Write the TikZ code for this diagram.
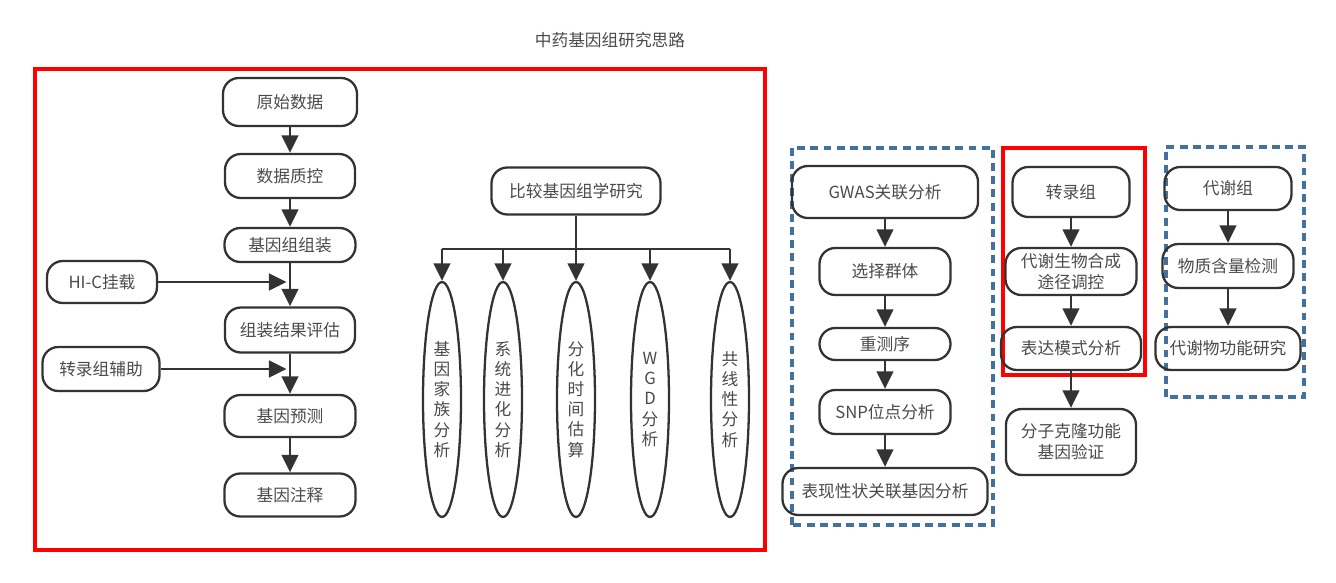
\documentclass[tikz,border=0pt]{standalone}
\usepackage{fontspec}
\setmainfont{Noto Sans CJK SC}
\usepackage{tikz}
\usetikzlibrary{arrows.meta}
\usetikzlibrary{shapes.geometric}
\definecolor{lineGray}{HTML}{333333}
\definecolor{textGray}{HTML}{4A4A4A}
\definecolor{dashBlue}{HTML}{41719C}
\tikzset{
  flowbox/.style={draw=lineGray, line width=1.3pt, rounded corners=9pt, inner sep=0pt, text=textGray, font=\fontsize{9.5}{12}\selectfont, align=center},
  oval/.style={draw=lineGray, line width=1.3pt, ellipse, minimum width=0.76cm, minimum height=4.7cm, inner sep=0pt, text=textGray, font=\fontsize{9.5}{11.5}\selectfont, align=center},
  flow/.style={draw=lineGray, line width=1.4pt, -{Triangle[width=9.5pt,length=10pt]}},
  wire/.style={draw=lineGray, line width=1.4pt},
  redframe/.style={draw=red, line width=2pt},
  blueframe/.style={draw=dashBlue, line width=2pt, dash pattern=on 4.5pt off 3pt},
}

\begin{document}
\begin{tikzpicture}
	\useasboundingbox (0, 0) rectangle (26.72, 11.66);
	\node[text=textGray, font=\fontsize{9.5}{12}\selectfont](title) at (12.2, 10.86){中药基因组研究思路};
	% Frames:
	\draw[redframe] (0.7, 0.66) rectangle (15.3, 10.28);
	\draw[blueframe] (15.84, 1.16) rectangle (19.86, 8.7);
	\draw[redframe] (20.06, 4.16) rectangle (22.9, 8.7);
	\draw[blueframe] (23.32, 3.72) rectangle (26.08, 8.72);
	% Genome assembly and annotation:
	\node[flowbox, minimum width=2.68cm, minimum height=0.96cm](raw) at (5.8, 9.62){原始数据};
	\node[flowbox, minimum width=2.6cm, minimum height=0.88cm](qc) at (5.8, 8.14){数据质控};
	\node[flowbox, minimum width=2.62cm, minimum height=0.68cm](asm) at (5.8, 6.76){基因组组装};
	\node[flowbox, minimum width=2.2cm, minimum height=0.84cm](hic) at (2.04, 6.02){HI-C挂载};
	\node[flowbox, minimum width=2.6cm, minimum height=0.9cm](eval) at (5.8, 5.06){组装结果评估};
	\node[flowbox, minimum width=2.34cm, minimum height=0.88cm](rnaaid) at (2.02, 4.28){转录组辅助};
	\node[flowbox, minimum width=2.62cm, minimum height=0.84cm](pred) at (5.8, 3.34){基因预测};
	\node[flowbox, minimum width=2.62cm, minimum height=0.86cm](anno) at (5.8, 1.76){基因注释};
	\draw[flow] (raw) -- (qc);
	\draw[flow] (qc) -- (asm);
	\draw[flow] (asm) -- (eval);
	\draw[flow] (eval) -- (pred);
	\draw[flow] (pred) -- (anno);
	\draw[flow] (hic.east) -- ([xshift=-2pt]hic.east -| asm.south);
	\draw[flow] (rnaaid.east) -- ([xshift=-2pt]rnaaid.east -| eval.south);
	% Comparative genomics:
	\node[flowbox, minimum width=3.38cm, minimum height=0.94cm](cmp) at (11.52, 7.84){比较基因组学研究};
	\coordinate (bus) at (11.52, 6.68);
	\node[oval](fam) at (8.84, 3.67){基\\因\\家\\族\\分\\析};
	\node[oval](phy) at (10.06, 3.67){系\\统\\进\\化\\分\\析};
	\node[oval](div) at (11.52, 3.67){分\\化\\时\\间\\估\\算};
	\node[oval](wgd) at (13.0, 3.67){W\\G\\D\\分\\析};
	\node[oval](syn) at (14.6, 3.67){共\\线\\性\\分\\析};
	\draw[wire] (cmp.south) -- (bus);
	\draw[wire] (fam.north |- bus) -- (syn.north |- bus);
	\foreach \n in {fam, phy, div, wgd, syn}
		\draw[flow] (\n.north |- bus) -- (\n.north);
	% GWAS:
	\node[flowbox, minimum width=3.72cm, minimum height=1.04cm](gwas) at (17.7, 7.82){GWAS关联分析};
	\node[flowbox, minimum width=2.62cm, minimum height=0.94cm](pop) at (17.7, 6.23){选择群体};
	\node[flowbox, minimum width=2.62cm, minimum height=0.64cm](reseq) at (17.7, 4.78){重测序};
	\node[flowbox, minimum width=2.62cm, minimum height=0.88cm](snp) at (17.7, 3.42){SNP位点分析};
	\node[flowbox, minimum width=4.1cm, minimum height=0.94cm](pheno) at (17.7, 1.83){表现性状关联基因分析};
	\draw[flow] (gwas) -- (pop);
	\draw[flow] (pop) -- (reseq);
	\draw[flow] (reseq) -- (snp);
	\draw[flow] (snp) -- (pheno);
	% Transcriptome:
	\node[flowbox, minimum width=2.34cm, minimum height=1.0cm](trans) at (21.42, 7.82){转录组};
	\node[flowbox, minimum width=2.62cm, minimum height=0.94cm](path) at (21.42, 6.23){代谢生物合成\\途径调控};
	\node[flowbox, minimum width=2.8cm, minimum height=0.86cm](expr) at (21.42, 4.69){表达模式分析};
	\node[flowbox, minimum width=2.6cm, minimum height=1.32cm](clone) at (21.42, 2.82){分子克隆功能\\基因验证};
	\draw[flow] (trans) -- (path);
	\draw[flow] (path) -- (expr);
	\draw[flow] (expr) -- (clone);
	% Metabolome:
	\node[flowbox, minimum width=2.54cm, minimum height=0.86cm](met) at (24.56, 7.89){代谢组};
	\node[flowbox, minimum width=2.62cm, minimum height=0.88cm](cont) at (24.56, 6.34){物质含量检测};
	\node[flowbox, minimum width=2.9cm, minimum height=0.86cm](func) at (24.56, 4.69){代谢物功能研究};
	\draw[flow] (met) -- (cont);
	\draw[flow] (cont) -- (func);
\end{tikzpicture}
\end{document}
